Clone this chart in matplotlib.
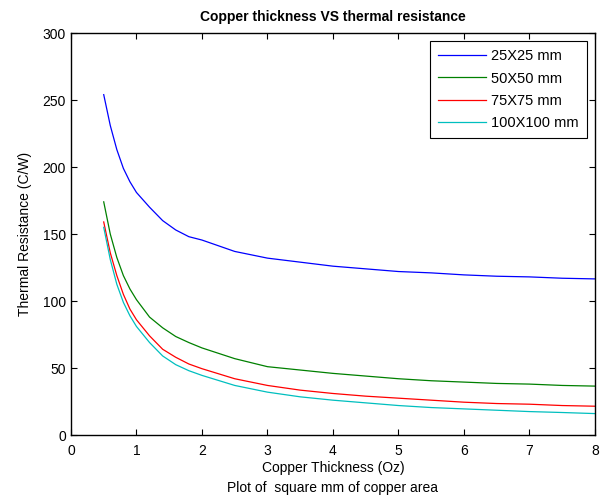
import matplotlib
matplotlib.use("Agg")
import matplotlib.pyplot as plt

plt.rcParams["font.family"] = ["Liberation Sans", "DejaVu Sans"]

# copper thickness (Oz)
thickness = [0.5, 0.6, 0.7, 0.8, 0.9, 1.0, 1.2, 1.4, 1.6, 1.8, 2.0, 2.5, 3.0,
             3.5, 4.0, 4.5, 5.0, 5.5, 6.0, 6.5, 7.0, 7.5, 8.0]
# thermal resistance (C/W) per copper area
r_25 = [254, 231, 213, 199, 189, 181, 170, 160, 153, 148, 145.5, 137, 132,
        129, 126, 124, 122, 121, 119.5, 118.5, 118, 117, 116.5]
r_50 = [174, 150, 132.5, 119, 109, 101, 88, 80, 73.5, 69, 65, 57, 51,
        48.5, 46, 44, 42, 40.5, 39.5, 38.5, 38, 37, 36.5]
r_75 = [159, 136, 119, 105, 94, 86, 74, 64, 58, 53, 49.5, 42, 37,
        33.5, 31, 29, 27.5, 26, 24.5, 23.5, 23, 22, 21.5]
r_100 = [155, 131, 112.5, 99, 89, 81, 69, 59, 52.5, 48, 44.5, 37, 32,
         28.5, 26, 24, 22, 20.5, 19.5, 18.5, 17.5, 16.8, 16]
labels = ["25X25 mm", "50X50 mm", "75X75 mm", "100X100 mm"]
colors = ["#0000ff", "#008000", "#ff0000", "#00bfbf"]

fig = plt.figure(figsize=(6.04, 4.97), dpi=100)
ax = fig.add_axes([0.1175, 0.1247, 0.8675, 0.8089])

for ys, lab, c in zip([r_25, r_50, r_75, r_100], labels, colors):
    ax.plot(thickness, ys, color=c, lw=0.9, label=lab)

ax.set_xlim(0, 8)
ax.set_ylim(0, 300)
ax.set_xticks(range(0, 9))
ax.set_yticks(range(0, 301, 50))
ax.tick_params(direction="in", top=True, right=True, labelsize=10, length=4)
ax.tick_params(axis="x", pad=6.5)
for s in ax.spines.values():
    s.set_linewidth(1.0)

ax.set_title("Copper thickness VS thermal resistance", fontsize=10,
             weight="bold", pad=8.5)
ax.set_xlabel("Copper Thickness (Oz)\nPlot of  square mm of copper area",
              fontsize=10, labelpad=2, linespacing=1.55)
ax.set_ylabel("Thermal Resistance (C/W)", fontsize=10, labelpad=8)

leg = ax.legend(loc="upper right", bbox_to_anchor=(0.984, 0.98),
                borderaxespad=0, fancybox=False, framealpha=1,
                edgecolor="black", fontsize=10.5, handlelength=3.3,
                handletextpad=0.35, labelspacing=0.58, borderpad=0.55)
leg.get_frame().set_linewidth(0.8)

fig.savefig("out.png", dpi=100)
